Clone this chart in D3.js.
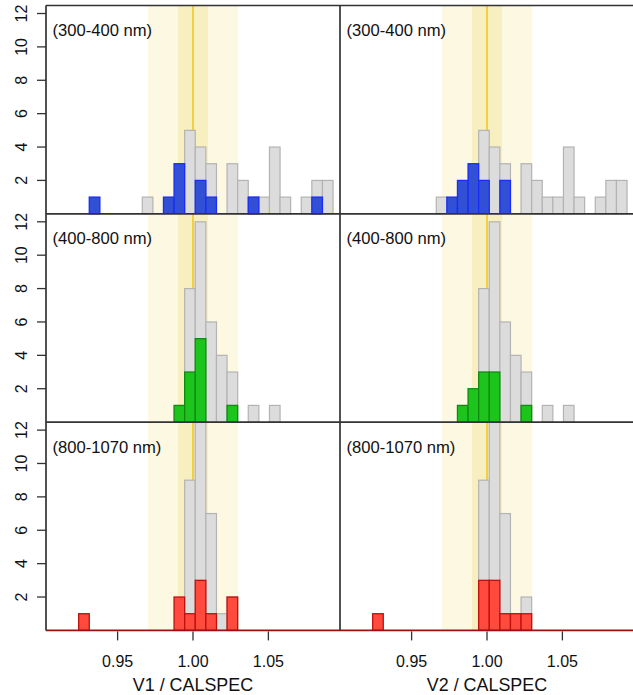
<!DOCTYPE html>
<html>
<head>
<meta charset="utf-8">
<script src="https://cdn.jsdelivr.net/npm/d3@7"></script>
<style>
  html, body { margin: 0; padding: 0; background: #ffffff; }
  svg { display: block; }
  text { font-family: "Liberation Sans", Arial, Helvetica, sans-serif; fill: #111; }
</style>
</head>
<body>
<svg id="chart" width="633" height="695"></svg>
<script>
// Lower edges of the histogram bins (ratio to CALSPEC); the last entry closes the final bin
const binEdges = [0.92417, 0.93120, 0.93823, 0.94526, 0.95229, 0.95932, 0.96635, 0.97338,
                  0.98041, 0.98744, 0.99447, 1.00150, 1.00853, 1.01556, 1.02259, 1.02962,
                  1.03665, 1.04368, 1.05071, 1.05774, 1.06477, 1.07180, 1.07883, 1.08586, 1.09289];

// Reference (all-star) counts per band, shared by both versions
const grayUV  = [0,0,0,0,0,0,1,0,0,0,5,4,3,0,3,2,1,1,4,1,0,1,2,2];
const grayVis = [0,0,0,0,0,0,0,0,0,0,8,12,6,4,3,0,1,0,1,0,0,0,0,0];
const grayNIR = [0,0,0,0,0,0,0,0,0,0,9,13,7,1,2,0,0,0,0,0,0,0,0,0];

// Counts for V1
const uvV1  = [0,1,0,0,0,0,0,0,1,3,0,2,1,0,0,0,1,0,0,0,0,0,1,0];
const visV1 = [0,0,0,0,0,0,0,0,0,1,3,5,0,0,1,0,0,0,0,0,0,0,0,0];
const nirV1 = [1,0,0,0,0,0,0,0,0,2,1,3,1,0,2,0,0,0,0,0,0,0,0,0];

// Counts for V2
const uvV2  = [0,0,0,0,0,0,0,1,2,3,2,0,2,0,0,0,0,0,0,0,0,0,0,0];
const visV2 = [0,0,0,0,0,0,0,0,1,2,3,3,0,0,1,0,0,0,0,0,0,0,0,0];
const nirV2 = [1,0,0,0,0,0,0,0,0,0,3,3,1,1,1,0,0,0,0,0,0,0,0,0];

const bandLabels = ["(300-400 nm)", "(400-800 nm)", "(800-1070 nm)"];
const xTitles = ["V1 / CALSPEC", "V2 / CALSPEC"];
const xTicks = [0.95, 1.00, 1.05];
const yTicks = [2, 4, 6, 8, 10, 12];
const wideBand = [0.97, 1.03];
const narrowBand = [0.99, 1.01];

const rows = [
  { label: bandLabels[0], ref: grayUV,  v: [uvV1,  uvV2],  fill: "#3150d6", stroke: "#1a2cf5", base: "#1a2cf5" },
  { label: bandLabels[1], ref: grayVis, v: [visV1, visV2], fill: "#1cc41c", stroke: "#128a12", base: "#128a12" },
  { label: bandLabels[2], ref: grayNIR, v: [nirV1, nirV2], fill: "#ff4a3d", stroke: "#c01010", base: "#9a1212" }
];

const svg = d3.select("#chart");
const left = 46, colW = 294, top0 = 5.5, rowH = 208.3;
const frame = "#333333";

const x0 = d3.scaleLinear().domain([0.9025, 1.0975]);
const y0 = d3.scaleLinear().domain([0, 12.48]);

const defs = svg.append("defs");

rows.forEach((row, r) => {
  for (let c = 0; c < 2; c++) {
    const px = left + c * colW, py = top0 + r * rowH;
    const x = x0.copy().range([px, px + colW]);
    const y = y0.copy().range([py + rowH, py]);
    const id = `clip-${r}-${c}`;
    defs.append("clipPath").attr("id", id)
      .append("rect").attr("x", px).attr("y", py).attr("width", colW).attr("height", rowH + 2);

    const g = svg.append("g").attr("clip-path", `url(#${id})`);

    // shaded tolerance bands and the unity line
    g.append("rect")
      .attr("x", x(wideBand[0])).attr("width", x(wideBand[1]) - x(wideBand[0]))
      .attr("y", py).attr("height", rowH)
      .attr("fill", "#fcf8e2");
    g.append("rect")
      .attr("x", x(narrowBand[0])).attr("width", x(narrowBand[1]) - x(narrowBand[0]))
      .attr("y", py).attr("height", rowH)
      .attr("fill", "#f8efc1");
    g.append("line")
      .attr("x1", x(1)).attr("x2", x(1)).attr("y1", py).attr("y2", py + rowH)
      .attr("stroke", "#f3c419").attr("stroke-width", 1.5);

    const bins = (counts) => counts.map((n, i) => ({ lo: binEdges[i], hi: binEdges[i + 1], n }))
      .filter(d => d.n > 0);

    // reference histogram
    g.selectAll(null).data(bins(row.ref)).join("rect")
      .attr("x", d => x(d.lo)).attr("width", d => x(d.hi) - x(d.lo))
      .attr("y", d => y(d.n)).attr("height", d => y(0) - y(d.n))
      .attr("fill", "#dcdcdc").attr("stroke", "#b3b3b3").attr("stroke-width", 1.2);

    // version histogram
    g.selectAll(null).data(bins(row.v[c])).join("rect")
      .attr("x", d => x(d.lo)).attr("width", d => x(d.hi) - x(d.lo))
      .attr("y", d => y(d.n)).attr("height", d => y(0) - y(d.n))
      .attr("fill", row.fill).attr("stroke", row.stroke).attr("stroke-width", 1.3);

    // panel caption
    svg.append("text")
      .attr("x", px + 6.5).attr("y", py + 30.5)
      .attr("font-size", 16.6)
      .text(row.label);

    // left axis on the first column
    if (c === 0) {
      const yAxis = svg.append("g");
      yTicks.forEach(t => {
        yAxis.append("line")
          .attr("x1", px - 9).attr("x2", px).attr("y1", y(t)).attr("y2", y(t))
          .attr("stroke", frame).attr("stroke-width", 1.3);
        yAxis.append("text")
          .attr("transform", `translate(${px - 19},${y(t)}) rotate(-90)`)
          .attr("text-anchor", "middle")
          .attr("font-size", 16)
          .text(t);
      });
    }

    // bottom axis on the last row
    if (r === rows.length - 1) {
      const base = py + rowH;
      svg.append("line")
        .attr("x1", px).attr("x2", px + colW).attr("y1", base).attr("y2", base)
        .attr("stroke", row.base).attr("stroke-width", 1.6);
      const xa = svg.append("g");
      xTicks.forEach(t => {
        xa.append("line")
          .attr("x1", x(t)).attr("x2", x(t)).attr("y1", base + 1).attr("y2", base + 10)
          .attr("stroke", frame).attr("stroke-width", 1.3);
        xa.append("text")
          .attr("x", x(t)).attr("y", base + 36.5)
          .attr("text-anchor", "middle").attr("font-size", 16)
          .text(d3.format(".2f")(t));
      });
      svg.append("text")
        .attr("x", px + colW / 2).attr("y", base + 60.5)
        .attr("text-anchor", "middle").attr("font-size", 17.9)
        .text(xTitles[c]);
    }
  }
});

// panel frame: top edges of each row and left edges of each column
const fr = svg.append("g").attr("stroke", frame).attr("stroke-width", 1.7).attr("fill", "none");
rows.forEach((row, r) => {
  const py = top0 + r * rowH;
  fr.append("line").attr("x1", left).attr("x2", left + 2 * colW).attr("y1", py).attr("y2", py);
});
for (let c = 0; c < 2; c++) {
  const px = left + c * colW;
  fr.append("line").attr("x1", px).attr("x2", px).attr("y1", top0).attr("y2", top0 + 3 * rowH);
}
</script>
</body>
</html>
